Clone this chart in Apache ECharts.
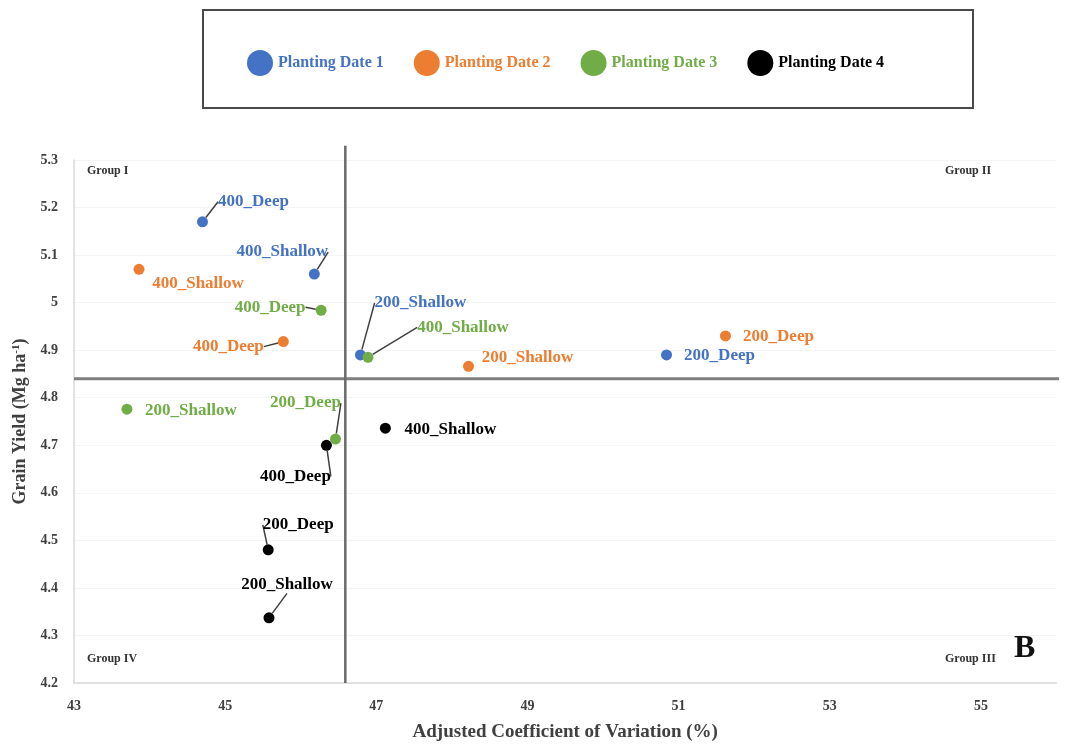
<!DOCTYPE html>
<html>
<head>
<meta charset="utf-8">
<script src="https://cdn.jsdelivr.net/npm/echarts@6/dist/echarts.min.js"></script>
<style>html,body{margin:0;padding:0;background:#fff}#c{width:1069px;height:745px}</style>
</head>
<body>
<div id="c"></div>
<script>
// ---- data ----
const seriesNames = ['Planting Date 1', 'Planting Date 2', 'Planting Date 3', 'Planting Date 4'];
const treatments = ['400_Deep', '400_Shallow', '200_Shallow', '200_Deep'];
const pd1CV = [44.70, 46.18, 46.79, 50.84];
const pd1Yield = [5.17, 5.06, 4.89, 4.89];
const pd2CV = [45.77, 43.86, 48.22, 51.62];
const pd2Yield = [4.918, 5.07, 4.866, 4.93];
const pd3CV = [46.27, 46.89, 43.70, 46.46];
const pd3Yield = [4.984, 4.885, 4.776, 4.713];
const pd4CV = [46.34, 47.12, 45.58, 45.57];
const pd4Yield = [4.70, 4.736, 4.337, 4.48];
const meanCV = 46.59;
const meanYield = 4.84;
const xTicks = [43, 45, 47, 49, 51, 53, 55];
const yTicks = [4.2, 4.3, 4.4, 4.5, 4.6, 4.7, 4.8, 4.9, 5, 5.1, 5.2, 5.3];
const groupNames = ['Group I', 'Group II', 'Group III', 'Group IV'];

// ---- styling (label placement offsets, colors) ----
const colors = ['#4472C4', '#ED7D31', '#70AD47', '#000000'];
const labelOffsets = [
  [[51, -20], [-32, -22], [60, -52], [53, 1]],
  [[-55, 5], [59, 14], [59, -9], [53, 1]],
  [[-51, -3], [95, -30], [64, 1], [-30, -36]],
  [[-31, 31], [65, 1], [18, -33], [30, -25]]
];
const showLines = [
  [1, 1, 1, 0],
  [1, 0, 0, 0],
  [1, 1, 0, 1],
  [1, 0, 1, 1]
];
const FONT = 'Liberation Serif';

const cvs = [pd1CV, pd2CV, pd3CV, pd4CV];
const ys = [pd1Yield, pd2Yield, pd3Yield, pd4Yield];

const scatterSeries = seriesNames.map((nm, si) => ({
  name: nm,
  type: 'scatter',
  symbol: 'circle',
  symbolSize: 11,
  z: 5,
  itemStyle: { color: colors[si], opacity: 1 },
  label: {
    show: true,
    position: 'inside',
    formatter: p => p.value[2],
    color: colors[si],
    fontFamily: FONT,
    fontWeight: 'bold',
    fontSize: 17
  },
  labelLine: { show: true, lineStyle: { color: '#404040', width: 1.5 } },
  labelLayout: p => ({ dx: labelOffsets[si][p.dataIndex][0], dy: labelOffsets[si][p.dataIndex][1] }),
  data: treatments.map((t, i) => ({
    value: [cvs[si][i], ys[si][i], t],
    labelLine: { show: !!showLines[si][i] }
  }))
}));

const refSeries = [
  {
    type: 'line', silent: true, symbol: 'none', clip: false, z: 2,
    lineStyle: { color: '#7f7f7f', width: 3 },
    data: [[43, meanYield], [56.3, meanYield]]
  },
  {
    type: 'line', silent: true, symbol: 'none', clip: false, z: 2,
    lineStyle: { color: '#6a6a6a', width: 2.5 },
    data: [[meanCV, 4.2], [meanCV, 5.33]]
  }
];

const chart = echarts.init(document.getElementById('c'), null, { renderer: 'canvas' });
chart.setOption({
  animation: false,
  backgroundColor: '#fff',
  grid: { left: 74, right: 12.5, top: 160, bottom: 62, containLabel: false, outerBoundsMode: 'none' },
  legend: {
    left: 242, top: 45,
    icon: 'circle', itemWidth: 26, itemHeight: 26, itemGap: 30,
    textStyle: { fontFamily: FONT, fontWeight: 'bold', fontSize: 16 },
    data: seriesNames.map((n, i) => ({ name: n, textStyle: { color: colors[i] } }))
  },
  xAxis: {
    type: 'value', min: 43, max: 56, interval: 2,
    axisLine: { show: true, lineStyle: { color: '#d9d9d9', width: 1.5 } },
    axisTick: { show: false },
    splitLine: { show: false },
    axisLabel: {
      showMaxLabel: false,
      margin: 16,
      color: '#404040', fontFamily: FONT, fontWeight: 'bold', fontSize: 14,
      formatter: v => (xTicks.indexOf(v) >= 0 ? String(v) : '')
    },
    name: 'Adjusted Coefficient of Variation (%)',
    nameLocation: 'middle', nameGap: 40,
    nameTextStyle: { color: '#404040', fontFamily: FONT, fontWeight: 'bold', fontSize: 19 }
  },
  yAxis: {
    type: 'value', min: 4.2, max: 5.3, interval: 0.1,
    axisLine: { show: true, lineStyle: { color: '#d9d9d9', width: 1.5 } },
    axisTick: { show: false },
    splitLine: { show: true, lineStyle: { color: '#f4f4f4', width: 1 } },
    axisLabel: {
      margin: 16,
      color: '#404040', fontFamily: FONT, fontWeight: 'bold', fontSize: 14,
      formatter: v => {
        const r = Math.round(v * 10) / 10;
        return yTicks.indexOf(r) >= 0 ? String(r) : '';
      }
    },
    name: '{a|Grain Yield (Mg ha}{s|-1}{a|)}',
    nameLocation: 'middle', nameGap: 43, nameRotate: 90,
    nameTextStyle: {
      color: '#404040', fontFamily: FONT, fontWeight: 'bold', fontSize: 18,
      rich: {
        a: { color: '#404040', fontFamily: FONT, fontWeight: 'bold', fontSize: 18 },
        s: { color: '#404040', fontFamily: FONT, fontWeight: 'bold', fontSize: 11, padding: [0, 0, 9, 0] }
      }
    }
  },
  graphic: [
    { type: 'rect', shape: { x: 203, y: 10, width: 770, height: 98 }, style: { fill: 'none', stroke: '#4a4a4a', lineWidth: 2 }, silent: true },
    { type: 'text', left: 87, top: 165, z: 100, style: { text: groupNames[0], font: 'bold 12px "Liberation Serif"', fill: '#333' } },
    { type: 'text', left: 945, top: 165, z: 100, style: { text: groupNames[1], font: 'bold 12px "Liberation Serif"', fill: '#333' } },
    { type: 'text', left: 945, top: 653, z: 100, style: { text: groupNames[2], font: 'bold 12px "Liberation Serif"', fill: '#333' } },
    { type: 'text', left: 87, top: 653, z: 100, style: { text: groupNames[3], font: 'bold 12px "Liberation Serif"', fill: '#333' } },
    { type: 'text', left: 1014, top: 633, z: 100, style: { text: 'B', font: 'bold 32px "Liberation Serif"', fill: '#111' } }
  ],
  series: refSeries.concat(scatterSeries)
});
</script>
</body>
</html>
